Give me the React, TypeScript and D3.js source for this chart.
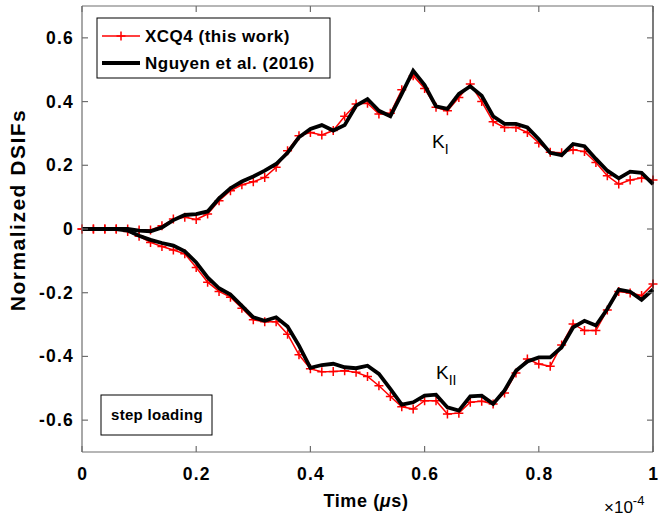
import * as d3 from 'd3';

const times = d3.range(0, 51).map((i) => i * 0.02);

// K_I
const kiXcq4 = [
  0, 0, 0, 0, 0, -0.003, -0.003, 0.01, 0.031, 0.037,
  0.03, 0.047, 0.089, 0.12, 0.139, 0.148, 0.162, 0.194, 0.246, 0.293,
  0.303, 0.295, 0.309, 0.354, 0.392, 0.395, 0.361, 0.363, 0.437, 0.481,
  0.441, 0.382, 0.371, 0.413, 0.455, 0.4, 0.337, 0.319, 0.319, 0.303,
  0.27, 0.241, 0.239, 0.249, 0.243, 0.209, 0.167, 0.141, 0.154, 0.16,
  0.154,
];
const kiNguyen = [
  0, 0, 0, 0, 0, -0.005, -0.007, 0.005, 0.028, 0.044,
  0.047, 0.055, 0.096, 0.128, 0.149, 0.165, 0.183, 0.204, 0.239, 0.288,
  0.314, 0.326, 0.309, 0.326, 0.387, 0.408, 0.371, 0.354, 0.424, 0.497,
  0.452, 0.385, 0.377, 0.424, 0.448, 0.418, 0.354, 0.33, 0.33, 0.319,
  0.282, 0.239, 0.232, 0.267, 0.26, 0.22, 0.183, 0.159, 0.18, 0.176,
  0.141,
];

// K_II
const kiiXcq4 = [
  0, 0, 0, 0, -0.008, -0.023, -0.042, -0.055, -0.066, -0.078,
  -0.121, -0.167, -0.196, -0.214, -0.249, -0.285, -0.291, -0.291, -0.33, -0.395,
  -0.439, -0.448, -0.447, -0.445, -0.45, -0.463, -0.492, -0.526, -0.558, -0.565,
  -0.539, -0.539, -0.581, -0.578, -0.544, -0.541, -0.549, -0.515, -0.452, -0.408,
  -0.424, -0.431, -0.364, -0.298, -0.319, -0.319, -0.254, -0.196, -0.201, -0.209,
  -0.173,
];
const kiiNguyen = [
  0, 0, 0, 0, -0.005, -0.021, -0.034, -0.044, -0.052, -0.07,
  -0.105, -0.152, -0.186, -0.206, -0.241, -0.277, -0.288, -0.277, -0.306, -0.366,
  -0.436, -0.427, -0.423, -0.434, -0.437, -0.429, -0.455, -0.502, -0.551, -0.544,
  -0.523, -0.52, -0.56, -0.57, -0.525, -0.523, -0.549, -0.507, -0.445, -0.416,
  -0.403, -0.403, -0.371, -0.309, -0.288, -0.303, -0.251, -0.19, -0.197, -0.222,
  -0.19,
];

const xTicks = [0, 0.2, 0.4, 0.6, 0.8, 1];
const yTicks = [-0.6, -0.4, -0.2, 0, 0.2, 0.4, 0.6];
const legendLabels = ['XCQ4 (this work)', 'Nguyen et al. (2016)'];

const W = 668;
const H = 519;
const margin = { top: 6, right: 15, bottom: 67, left: 82 };
const font = '"Liberation Sans", Arial, sans-serif';

export default function App() {
  const x = d3.scaleLinear().domain([0, 1]).range([margin.left, W - margin.right]);
  const y = d3.scaleLinear().domain([-0.7, 0.7]).range([H - margin.bottom, margin.top]);
  const line = d3
    .line<number>()
    .x((_, i) => x(times[i]))
    .y((d) => y(d));

  const x0 = x(0);
  const x1 = x(1);
  const yTop = y(0.7);
  const yBot = y(-0.7);
  const tickLen = 6;
  const plus = (cx: number, cy: number, k: string | number) => (
    <path key={k} d={`M${cx - 4.5},${cy}H${cx + 4.5}M${cx},${cy - 4.5}V${cy + 4.5}`} stroke="#ff0000" strokeWidth={1.5} />
  );

  return (
    <svg width={W} height={H} style={{ position: 'absolute', left: 0, top: 0, background: '#fff' }} fontFamily={font}>
      <rect x={0} y={0} width={W} height={H} fill="#fff" />
      {/* curves */}
      {[kiXcq4, kiiXcq4].map((s, si) => (
        <g key={`r${si}`}>
          <path d={line(s) || ''} fill="none" stroke="#ff0000" strokeWidth={1.5} />
          {s.map((v, i) => plus(x(times[i]), y(v), i))}
        </g>
      ))}
      {[kiNguyen, kiiNguyen].map((s, si) => (
        <path key={`b${si}`} d={line(s) || ''} fill="none" stroke="#000" strokeWidth={3.8} strokeLinejoin="miter" />
      ))}

      {/* axes box */}
      <g stroke="#6e6e6e" strokeWidth={1.2} fill="none">
        <line x1={x0} x2={x0} y1={yTop} y2={yBot} />
        <line x1={x0} x2={x1} y1={yBot} y2={yBot} />
        <line x1={x0} x2={x1} y1={yTop} y2={yTop} />
        <line x1={x1} x2={x1} y1={yTop} y2={yBot} stroke="#222" />
        {xTicks.map((t) => (
          <g key={`xt${t}`}>
            <line x1={x(t)} x2={x(t)} y1={yBot} y2={yBot - tickLen} />
            <line x1={x(t)} x2={x(t)} y1={yTop} y2={yTop + tickLen} />
          </g>
        ))}
        {yTicks.map((t) => (
          <g key={`yt${t}`}>
            <line x1={x0} x2={x0 + tickLen} y1={y(t)} y2={y(t)} />
            <line x1={x1} x2={x1 - tickLen} y1={y(t)} y2={y(t)} />
          </g>
        ))}
      </g>

      {/* tick labels */}
      <g fontSize={17.5} fontWeight="bold" fill="#000" letterSpacing={1.2}>
        {xTicks.map((t) => (
          <text key={`xl${t}`} x={x(t) + 0.6} y={yBot + 28} textAnchor="middle">
            {d3.format('~g')(t)}
          </text>
        ))}
        {yTicks.map((t) => (
          <text key={`yl${t}`} x={x0 - 8} y={y(t) + 6} textAnchor="end">
            {d3.format('~g')(t).replace('−', '-')}
          </text>
        ))}
      </g>
      <g fontWeight="bold" fill="#000">
        <text x={366} y={H - 12} textAnchor="middle" fontSize={18} letterSpacing={0.6}>
          Time (<tspan fontStyle="italic">μ</tspan>s)
        </text>
        <text x={25} y={210} textAnchor="middle" fontSize={21} letterSpacing={1.5} transform="rotate(-90, 25, 210)">
          Normalized DSIFs
        </text>
      </g>
      <text x={604} y={H - 6} fontSize={17}>
        ×10<tspan dy={-8} fontSize={13}>-4</tspan>
      </text>

      {/* legend */}
      <g>
        <rect x={97} y={18} width={233} height={60} fill="#fff" stroke="#000" strokeWidth={1} />
        <line x1={102} x2={140} y1={36} y2={36} stroke="#ff0000" strokeWidth={1.5} />
        {plus(121, 36, 'lg')}
        <line x1={102} x2={140} y1={63} y2={63} stroke="#000" strokeWidth={3.8} />
        <text x={145} y={42} fontSize={17} fontWeight="bold" letterSpacing={0.5}>{legendLabels[0]}</text>
        <text x={145} y={69} fontSize={17} fontWeight="bold" letterSpacing={0.5}>{legendLabels[1]}</text>
      </g>

      {/* annotations */}
      <rect x={101} y={395} width={111} height={40} fill="#fff" stroke="#000" strokeWidth={1} />
      <text x={157} y={420} fontSize={15} fontWeight="bold" textAnchor="middle" letterSpacing={0.3}>step loading</text>
      <text x={432} y={148} fontSize={19}>
        K<tspan dy={6} fontSize={14}>I</tspan>
      </text>
      <text x={436} y={379} fontSize={19}>
        K<tspan dy={6} fontSize={14}>II</tspan>
      </text>
    </svg>
  );
}
